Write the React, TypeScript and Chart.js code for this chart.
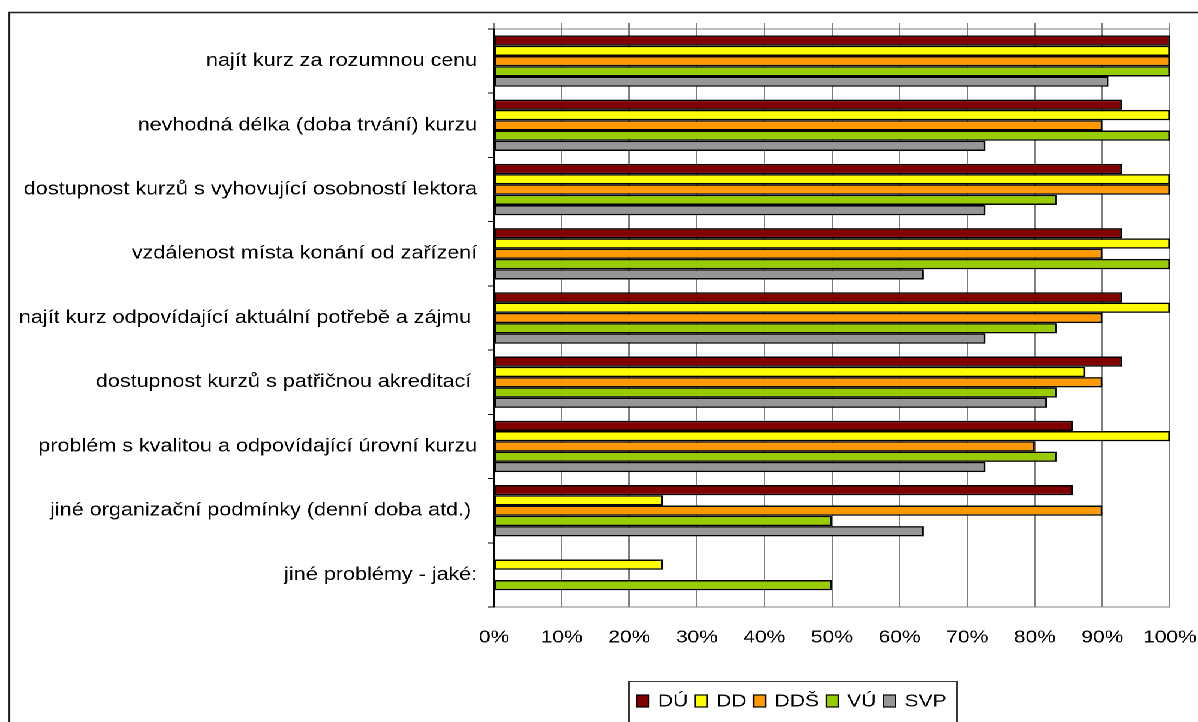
import React, { useEffect, useRef } from "react";
import { Chart, registerables } from "chart.js";

Chart.register(...registerables);

// ---- data ----
const categories = [
  "najít kurz za rozumnou cenu",
  "nevhodná délka (doba trvání) kurzu",
  "dostupnost kurzů s vyhovující osobností lektora",
  "vzdálenost místa konání od zařízení",
  "najít kurz odpovídající aktuální potřebě a zájmu ",
  "dostupnost kurzů s patřičnou akreditací ",
  "problém s kvalitou a odpovídající úrovní kurzu",
  "jiné organizační podmínky (denní doba atd.) ",
  "jiné problémy - jaké:",
];
const seriesNames = ["DÚ", "DD", "DDŠ", "VÚ", "SVP"];
const seriesColors = ["#800000", "#FFFF00", "#FF9900", "#99CC00", "#969696"];
const duValues = [100, 92.9, 92.9, 92.9, 92.9, 92.9, 85.7, 85.7, null];
const ddValues = [100, 100, 100, 100, 100, 87.5, 100, 25, 25];
const ddsValues = [100, 90, 100, 90, 90, 90, 80, 90, null];
const vuValues = [100, 100, 83.3, 100, 83.3, 83.3, 83.3, 50, 50];
const svpValues = [90.9, 72.7, 72.7, 63.6, 72.7, 81.8, 72.7, 63.6, null];
const seriesValues = [duValues, ddValues, ddsValues, vuValues, svpValues];
const xMin = 0;
const xMax = 100;
const xStep = 10;

// ---- layout ----
const LW = 999; // logical canvas width (stretched horizontally to 1198)
const LH = 722;
const SX = 1198 / LW;
const FONT = "'Liberation Sans', Arial, sans-serif";

const framePlugin = {
  id: "frameAndLegend",
  afterDraw(chart: any) {
    const ctx = chart.ctx;
    ctx.save();
    // outer frame (left + top)
    ctx.strokeStyle = "#1a1a1a";
    ctx.lineWidth = 1.5;
    ctx.beginPath();
    ctx.moveTo(7.8, LH + 2);
    ctx.lineTo(7.8, 12.5);
    ctx.lineTo(LW + 2, 12.5);
    ctx.stroke();

    // legend box
    const lx = 524.5;
    const ly = 681.5;
    const lr = 798;
    ctx.strokeStyle = "#3a3a3a";
    ctx.lineWidth = 1;
    ctx.beginPath();
    ctx.moveTo(lx, LH + 2);
    ctx.lineTo(lx, ly);
    ctx.lineTo(lr, ly);
    ctx.lineTo(lr, LH + 2);
    ctx.stroke();

    ctx.font = `17.5px ${FONT}`;
    ctx.textBaseline = "middle";
    ctx.textAlign = "left";
    let x = 531;
    const cy = 701;
    chart.data.datasets.forEach((ds: any) => {
      ctx.fillStyle = ds.backgroundColor;
      ctx.fillRect(x, cy - 6, 10, 12);
      ctx.strokeStyle = "#000";
      ctx.lineWidth = 1.2;
      ctx.strokeRect(x, cy - 6, 10, 12);
      const tx = x + 17.5;
      ctx.fillStyle = "#000";
      ctx.fillText(ds.label, tx, cy + 0.5);
      x = tx + ctx.measureText(ds.label).width + 6;
    });
    ctx.restore();
  },
};

export default function App() {
  const ref = useRef<HTMLCanvasElement | null>(null);

  useEffect(() => {
    if (!ref.current) return;
    const chart = new Chart(ref.current, {
      type: "bar",
      data: {
        labels: categories,
        datasets: seriesNames.map((name, i) => ({
          label: name,
          data: seriesValues[i],
          backgroundColor: seriesColors[i],
          borderColor: "#000000",
          borderWidth: 1.5,
          borderSkipped: false,
          categoryPercentage: 0.8,
          barPercentage: 1.0,
        })),
      },
      options: {
        indexAxis: "y",
        animation: false,
        responsive: false,
        devicePixelRatio: 2,
        layout: { padding: { top: 23, right: 23.4, bottom: 0, left: 0 } },
        plugins: {
          legend: { display: false },
          tooltip: { enabled: false },
        },
        scales: {
          x: {
            type: "linear",
            position: "bottom",
            min: xMin,
            max: xMax,
            ticks: {
              stepSize: xStep,
              color: "#000",
              padding: 20,
              font: { family: FONT, size: 17.5 },
              callback: (v: any) => `${v}%`,
            },
            grid: { color: "#808080", lineWidth: 1, drawTicks: false },
            border: { display: true, color: "#808080", width: 1 },
            afterFit: (s: any) => {
              s.height = LH - 607;
              s.paddingLeft = 0;
              s.paddingRight = 0;
            },
          },
          x2: {
            type: "linear",
            position: "top",
            min: xMin,
            max: xMax,
            ticks: { display: false, stepSize: xStep },
            grid: {
              drawOnChartArea: false,
              drawTicks: true,
              tickLength: 6,
              color: "#808080",
            },
            border: { display: true, color: "#808080", width: 1 },
            afterFit: (s: any) => {
              s.height = 6;
              s.paddingLeft = 0;
              s.paddingRight = 0;
            },
          },
          y: {
            type: "category",
            ticks: {
              color: "#000",
              padding: 9,
              font: { family: FONT, size: 18 },
            },
            grid: {
              offset: true,
              drawOnChartArea: false,
              drawTicks: true,
              tickLength: 5,
              color: "#000",
            },
            border: { display: true, color: "#000", width: 1.2 },
            afterFit: (s: any) => {
              s.width = 412;
              s.paddingTop = 0;
              s.paddingBottom = 0;
            },
          },
        },
      },
      plugins: [framePlugin],
    } as any);
    return () => chart.destroy();
  }, []);

  return (
    <div
      style={{
        position: "absolute",
        left: 0,
        top: 0,
        width: LW,
        height: LH,
        transform: `scaleX(${SX})`,
        transformOrigin: "0 0",
        background: "#fff",
      }}
    >
      <canvas ref={ref} width={LW} height={LH} style={{ display: "block" }} />
    </div>
  );
}
